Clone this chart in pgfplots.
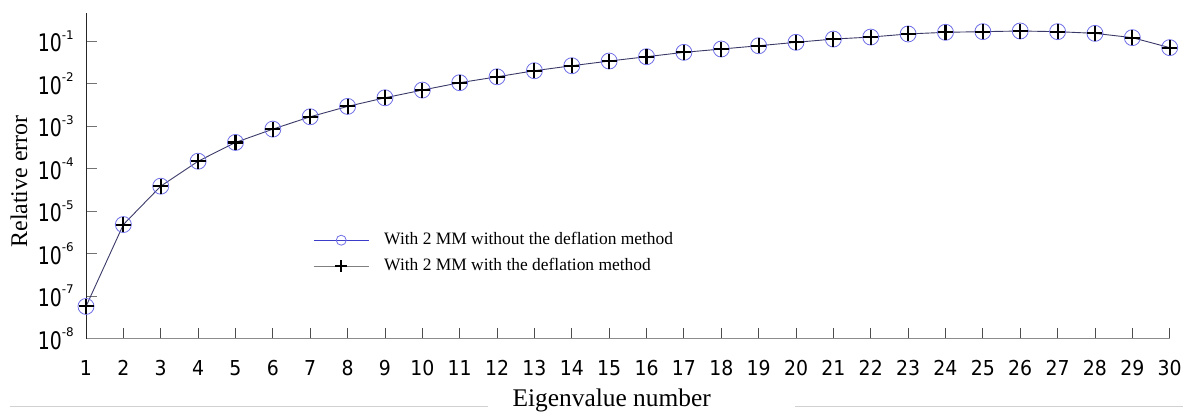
\documentclass[border=0pt]{standalone}
\usepackage{pgfplots}
\pgfplotsset{compat=1.18}
\usepackage{pgfplotstable}
\usepackage{fontspec}
\setmainfont{Liberation Serif}
\newfontfamily\xtickfont{DejaVu Sans}[FakeStretch=0.92]
\newfontfamily\ytickfont{DejaVu Sans}[FakeStretch=0.78]
\newfontfamily\exfont{DejaVu Sans}
\newcommand\ex[1]{10\raisebox{12.5bp}{\exfont\fontsize{12}{12}\selectfont #1}}
\definecolor{lineC}{RGB}{58,58,105}
\definecolor{circC}{RGB}{110,110,230}
\definecolor{legblue}{RGB}{60,60,200}

\pgfplotstableread{
x y
1 5.7e-8
2 4.83e-6
3 3.87e-5
4 1.50e-4
5 4.15e-4
6 8.55e-4
7 1.67e-3
8 2.93e-3
9 4.68e-3
10 7.10e-3
11 1.06e-2
12 1.46e-2
13 2.03e-2
14 2.66e-2
15 3.43e-2
16 4.34e-2
17 5.5e-2
18 6.58e-2
19 7.87e-2
20 9.47e-2
21 0.113
22 0.126
23 0.149
24 0.163
25 0.169
26 0.175
27 0.169
28 0.154
29 0.122
30 0.071
}\nodefl

\pgfplotstableread{
x y
1 5.7e-8
2 4.83e-6
3 3.87e-5
4 1.50e-4
5 4.15e-4
6 8.55e-4
7 1.67e-3
8 2.93e-3
9 4.68e-3
10 7.10e-3
11 1.06e-2
12 1.46e-2
13 2.03e-2
14 2.66e-2
15 3.43e-2
16 4.34e-2
17 5.5e-2
18 6.58e-2
19 7.87e-2
20 9.47e-2
21 0.113
22 0.126
23 0.149
24 0.163
25 0.169
26 0.175
27 0.169
28 0.154
29 0.122
30 0.071
}\withdefl

\begin{document}
\begin{tikzpicture}
\begin{axis}[
  scale only axis, width=1083.7bp, height=325.2bp,
  ymode=log, xmin=1, xmax=30, ymin=1e-8, ymax=0.457,
  axis x line*=bottom, axis y line*=left,
  x axis line style={draw=black!45, line width=1.3bp, -},
  y axis line style={draw=black!85, line width=1bp, -},
  tick align=inside, major tick length=11bp,
  xtick={1,...,30},
  ytick={1e-8,1e-7,1e-6,1e-5,1e-4,1e-3,1e-2,1e-1},
  yticklabels={\ex{-8},\ex{-7},\ex{-6},\ex{-5},\ex{-4},\ex{-3},\ex{-2},\ex{-1}},
  yminorticks=false, xminorticks=false,
  xtick style={draw=black!70, line width=0.9bp},
  ytick style={draw=black!55, line width=1bp},
  xticklabel style={font=\xtickfont\fontsize{20.6}{20.6}\selectfont, anchor=north, inner sep=0pt, yshift=-21.5bp},
  yticklabel style={font=\ytickfont\fontsize{24.3}{24.3}\selectfont, anchor=east, inner sep=0pt, xshift=-12bp},
  /pgf/number format/assume math mode=true,
  clip=false,
  xlabel={Eigenvalue number}, ylabel={Relative error},
  xlabel style={at={(axis description cs:0.4851,0)}, anchor=base, yshift=-68bp, font=\fontsize{25.5}{25.5}\selectfont, inner sep=0pt},
  ylabel style={at={(axis description cs:-0.0618,0.483)}, anchor=center, font=\fontsize{24}{24}\selectfont, inner sep=0pt},
  legend style={draw=none, fill=none, at={(axis description cs:0.2095,0.3275)}, anchor=north west, inner sep=0pt,
    font=\fontsize{17.5}{17.5}\selectfont, row sep=10bp, column sep=0bp,
    nodes={inner sep=0pt, text height=12bp, text depth=4bp}},
  legend cell align=left,
  legend image code/.code={\draw[#1, mark repeat=2, mark phase=2] plot coordinates {(0bp,0bp) (27.5bp,0bp) (55bp,0bp)}; \path (70bp,0bp);},
]
\addplot[forget plot, color=lineC, line width=0.9bp, mark=o, mark size=8bp, mark options={draw=circC, line width=0.8bp, fill=none}] table[x=x,y=y] {\nodefl};
\addplot[forget plot, only marks, mark=+, mark size=7.5bp, mark options={draw=black, line width=2.1bp}] table[x=x,y=y] {\withdefl};
\addlegendimage{color=legblue, line width=0.8bp, mark=o, mark size=5bp, mark options={draw=circC, fill=white}}
\addlegendentry{With 2 MM without the deflation method}
\addlegendimage{color=gray, line width=1bp, mark=+, mark size=6bp, mark options={draw=black, line width=2bp}}
\addlegendentry{With 2 MM with the deflation method}
\end{axis}
\draw[black!18, line width=1bp] ([shift={(-76bp,-67.5bp)}]current axis.south west) -- ([shift={(402bp,-67.5bp)}]current axis.south west);
\draw[black!18, line width=1bp] ([shift={(709bp,-67.5bp)}]current axis.south west) -- ([shift={(1097bp,-67.5bp)}]current axis.south west);
\pgfresetboundingbox
\useasboundingbox ([shift={(-86bp,-73.5bp)}]current axis.south west) rectangle ([shift={(17.3bp,13.3bp)}]current axis.north east);
\end{tikzpicture}
\end{document}
